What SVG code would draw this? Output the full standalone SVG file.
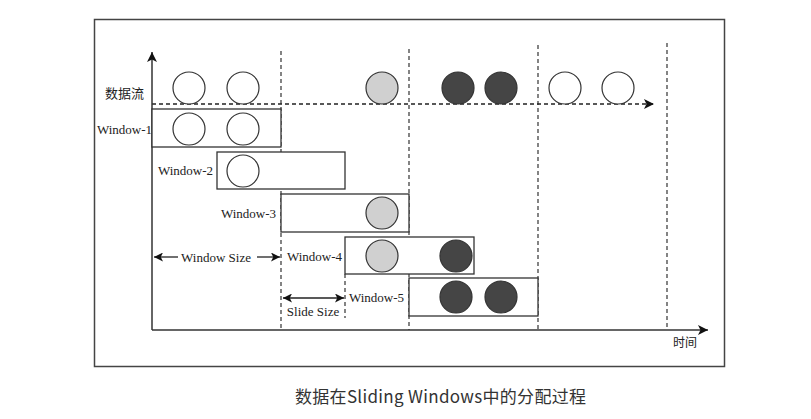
<svg xmlns="http://www.w3.org/2000/svg" width="811" height="419" viewBox="0 0 811 419">
<style>
.frame{fill:none;stroke:#444;stroke-width:1.5}
.axis{stroke:#333;stroke-width:1.5;fill:none}
.vd{stroke:#333;stroke-width:1.2;stroke-dasharray:4 3;fill:none}
.hd{stroke:#222;stroke-width:1.5;stroke-dasharray:4 3;fill:none}
.win{fill:#fff;stroke:#333;stroke-width:1.3}
.c{stroke:#333;stroke-width:1.2}
.w{fill:#fff}
.g{fill:#d0d0d0}
.d{fill:#454545}
.lbl{font-family:"Liberation Serif","Noto Sans CJK SC",serif;font-size:13px;fill:#222}
.cap{font-family:"Noto Sans CJK SC","Noto Sans",sans-serif;font-size:17px;fill:#333}
.dim{stroke:#222;stroke-width:1.3;fill:none}
</style>
<defs>
<marker id="ah" viewBox="0 0 10 10" refX="10" refY="5" markerWidth="10" markerHeight="10" markerUnits="userSpaceOnUse" orient="auto">
<path d="M0,0 L10,5 L0,10 L2.5,5 z" fill="#111"/>
</marker>
<marker id="ah2" viewBox="0 0 10 10" refX="10" refY="5" markerWidth="9" markerHeight="9" markerUnits="userSpaceOnUse" orient="auto-start-reverse">
<path d="M0,0 L10,5 L0,10 L2.5,5 z" fill="#111"/>
</marker>
</defs>
<rect width="811" height="419" fill="#fff"/>
<rect class="frame" x="94.5" y="19.5" width="630" height="347"/>
<g id="connectors">
<line class="vd" x1="281" y1="51" x2="281" y2="330"/>
<line class="vd" x1="409" y1="49" x2="409" y2="330"/>
<line class="vd" x1="538" y1="45" x2="538" y2="330"/>
<line class="vd" x1="667" y1="43" x2="667" y2="330"/>
<line class="vd" x1="345" y1="274" x2="345" y2="318"/>
<line class="hd" x1="152" y1="104" x2="654" y2="104" marker-end="url(#ah)"/>
<line class="axis" x1="152" y1="330" x2="152" y2="52" marker-end="url(#ah)"/>
<line class="axis" x1="152" y1="330" x2="708" y2="330" marker-end="url(#ah)"/>
<line class="dim" x1="178" y1="257" x2="154" y2="257" marker-end="url(#ah2)"/>
<line class="dim" x1="257" y1="257" x2="280" y2="257" marker-end="url(#ah2)"/>
<line class="dim" x1="283" y1="298" x2="344" y2="298" marker-start="url(#ah2)" marker-end="url(#ah2)"/>
</g>
<g id="stream">
<text class="lbl" x="105" y="97.5">数据流</text>
<circle class="c w" cx="189" cy="88" r="16"/>
<circle class="c w" cx="243" cy="88" r="16"/>
<circle class="c g" cx="382" cy="88" r="16"/>
<circle class="c d" cx="458" cy="88" r="16"/>
<circle class="c d" cx="501" cy="88" r="16"/>
<circle class="c w" cx="565" cy="88" r="16"/>
<circle class="c w" cx="618" cy="88" r="16"/>
</g>
<g id="window-1">
<rect class="win" x="152" y="109" width="129" height="38"/>
<text class="lbl" x="152" y="133.5" text-anchor="end">Window-1</text>
<circle class="c w" cx="189" cy="129" r="16"/>
<circle class="c w" cx="243" cy="129" r="16"/>
</g>
<g id="window-2">
<rect class="win" x="217" y="152" width="128" height="37"/>
<text class="lbl" x="213" y="175" text-anchor="end">Window-2</text>
<circle class="c w" cx="243" cy="171" r="16"/>
</g>
<g id="window-3">
<rect class="win" x="281" y="194" width="128" height="38"/>
<text class="lbl" x="276" y="217.5" text-anchor="end">Window-3</text>
<circle class="c g" cx="382" cy="213" r="16"/>
</g>
<g id="window-4">
<rect class="win" x="345" y="237" width="129" height="37"/>
<text class="lbl" x="287" y="260.5">Window-4</text>
<circle class="c g" cx="382" cy="256" r="16"/>
<circle class="c d" cx="456" cy="256" r="16"/>
</g>
<g id="window-5">
<rect class="win" x="409" y="278" width="129" height="38"/>
<text class="lbl" x="349" y="302">Window-5</text>
<circle class="c d" cx="456" cy="297" r="16"/>
<circle class="c d" cx="501" cy="297" r="16"/>
</g>
<g id="dims">
<text class="lbl" x="216" y="261.5" text-anchor="middle">Window Size</text>
<text class="lbl" x="313" y="315.5" text-anchor="middle">Slide Size</text>
<text class="lbl" x="673" y="347" style="font-size:12px">时间</text>
</g>
<text class="cap" x="295" y="403" textLength="291" lengthAdjust="spacing">数据在Sliding Windows中的分配过程</text>
</svg>
